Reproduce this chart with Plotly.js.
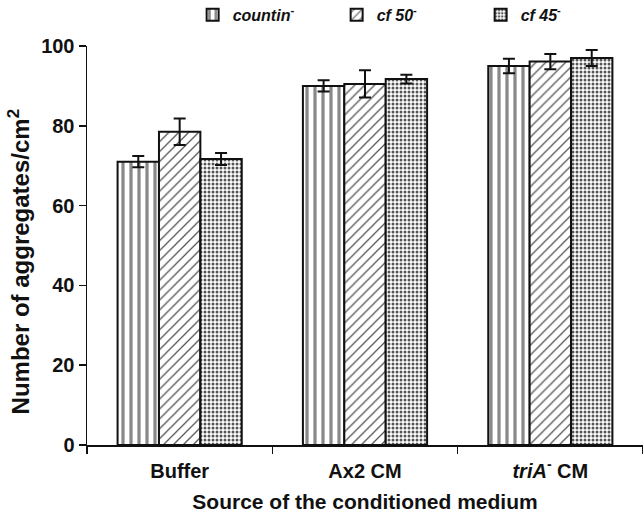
<!DOCTYPE html>
<html>
<head>
<meta charset="utf-8">
<script src="https://cdn.plot.ly/plotly-3.0.1.min.js"></script>
<style>html,body{margin:0;padding:0;background:#fff;}#chart{width:643px;height:514px;}</style>
</head>
<body>
<div id="chart"></div>
<script>
const categories = ["Buffer", "Ax2 CM", "<i>triA</i><sup>-</sup> CM"];
const seriesNames = ["<i>countin</i><sup>-</sup>", "<i>cf 50</i><sup>-</sup>", "<i>cf 45</i><sup>-</sup>"];
const countinValues = [71.0, 90.0, 95.0];
const countinErrors = [1.4, 1.4, 1.8];
const cf50Values = [78.5, 90.5, 96.1];
const cf50Errors = [3.3, 3.4, 1.9];
const cf45Values = [71.7, 91.7, 97.0];
const cf45Errors = [1.5, 1.1, 2.0];
const yTicks = [0, 20, 40, 60, 80, 100];
const xTitle = "Source of the conditioned medium";
const yTitle = "Number of aggregates/cm<sup>2</sup>";

const fam = "Liberation Sans, Arial, Helvetica, sans-serif";
const tickFont = {family: fam, size: 20, color: "#111", weight: "bold"};
const xTitleFont = {family: fam, size: 21, color: "#111", weight: "bold"};
const yTitleFont = {family: fam, size: 24, color: "#111", weight: "bold"};
const legendFont = {family: fam, size: 16, color: "#111", weight: "bold"};

function makeTrace(name, vals, errs, pattern) {
  return {
    type: "bar",
    name: name,
    x: categories,
    y: vals,
    error_y: {type: "data", array: errs, visible: true, color: "#111", thickness: 2, width: 6},
    marker: {color: "#fff", line: {color: "#111", width: 2}, pattern: pattern}
  };
}

const data = [
  makeTrace(seriesNames[0], countinValues, countinErrors, {shape: "|", fgcolor: "#888", bgcolor: "#fff", size: 8, solidity: 0.4}),
  makeTrace(seriesNames[1], cf50Values, cf50Errors, {shape: "/", fgcolor: "#555", bgcolor: "#fff", size: 7, solidity: 0.18}),
  makeTrace(seriesNames[2], cf45Values, cf45Errors, {shape: ".", fgcolor: "#555", bgcolor: "#fff", size: 4, solidity: 0.45})
];

const layout = {
  width: 643, height: 514,
  margin: {l: 87, r: 0, t: 46, b: 69, autoexpand: false},
  paper_bgcolor: "#fff", plot_bgcolor: "#fff",
  barmode: "group",
  bargap: 0.33,
  bargroupgap: 0,
  showlegend: true,
  legend: {orientation: "h", x: 0.19, xanchor: "left", y: 1.078, yanchor: "middle",
           font: legendFont, traceorder: "normal", entrywidth: 99, entrywidthmode: "pixels"},
  xaxis: {
    showline: true, linecolor: "#111", linewidth: 1.5,
    ticks: "outside", tickson: "boundaries", ticklen: 7, tickcolor: "#111", tickwidth: 1.5,
    ticklabelstandoff: 7, automargin: false,
    tickfont: tickFont, showgrid: false, zeroline: false,
    title: {text: xTitle, font: xTitleFont, standoff: 14}
  },
  yaxis: {
    range: [0, 100], tickvals: yTicks, ticktext: yTicks.map(String),
    showline: true, linecolor: "#111", linewidth: 1.5,
    ticks: "outside", ticklen: 7, tickcolor: "#111", tickwidth: 1.5,
    automargin: false,
    tickfont: tickFont, showgrid: false, zeroline: false
  },
  annotations: [{
    text: yTitle, xref: "paper", yref: "paper",
    x: -0.122, y: 0.458, xanchor: "center", yanchor: "middle",
    textangle: -90, showarrow: false, font: yTitleFont
  }]
};

Plotly.newPlot("chart", data, layout, {displayModeBar: false, staticPlot: true});
</script>
</body>
</html>
